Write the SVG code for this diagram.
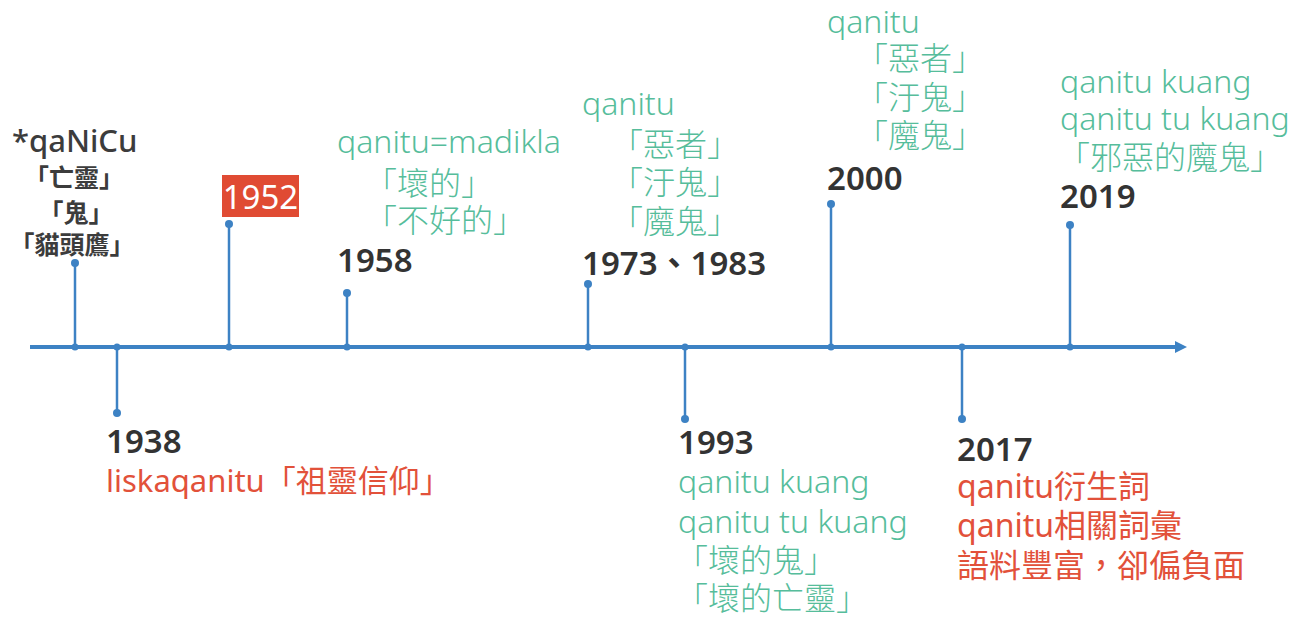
<svg xmlns="http://www.w3.org/2000/svg" width="1308" height="617" viewBox="0 0 1308 617">
<defs>
<style>
text{font-family:"Noto Sans","Noto Sans CJK TC",sans-serif;}
.yr{font-size:33px;font-weight:600;fill:#333333;}
.g{font-size:32px;font-weight:300;fill:#56bd9b;}
.r{font-size:31px;fill:#e2513a;}
.r2{font-size:32px;fill:#e2513a;}
.k{font-size:25px;font-weight:700;fill:#3c3c3c;text-anchor:middle;}
.stem{stroke:#3d82c4;stroke-width:2.5;fill:none;}
.dot{fill:#3d82c4;}
</style>
<marker id="arr" viewBox="0 0 12 12" refX="2" refY="6" markerWidth="12" markerHeight="12" markerUnits="userSpaceOnUse" orient="auto">
<path d="M0,0 L12,6 L0,12 Z" fill="#3d82c4"/>
</marker>
</defs>
<rect width="1308" height="617" fill="#ffffff"/>
<g id="connectors">
<line x1="30" y1="347" x2="1177" y2="347" stroke="#3d82c4" stroke-width="4" marker-end="url(#arr)"/>
<line class="stem" x1="75" y1="347" x2="75" y2="263"/>
<line class="stem" x1="117" y1="347" x2="117" y2="413"/>
<line class="stem" x1="229" y1="347" x2="229" y2="224"/>
<line class="stem" x1="347" y1="347" x2="347" y2="293"/>
<line class="stem" x1="588" y1="347" x2="588" y2="284"/>
<line class="stem" x1="685" y1="347" x2="685" y2="419"/>
<line class="stem" x1="831" y1="347" x2="831" y2="204"/>
<line class="stem" x1="962" y1="347" x2="962" y2="419"/>
<line class="stem" x1="1070" y1="347" x2="1070" y2="225"/>
<circle class="dot" cx="75" cy="347" r="3.5"/><circle class="dot" cx="75" cy="263" r="4"/>
<circle class="dot" cx="117" cy="347" r="3.5"/><circle class="dot" cx="117" cy="413" r="4"/>
<circle class="dot" cx="229" cy="347" r="3.5"/><circle class="dot" cx="229" cy="224" r="4"/>
<circle class="dot" cx="347" cy="347" r="3.5"/><circle class="dot" cx="347" cy="293" r="4"/>
<circle class="dot" cx="588" cy="347" r="3.5"/><circle class="dot" cx="588" cy="284" r="4"/>
<circle class="dot" cx="685" cy="347" r="3.5"/><circle class="dot" cx="685" cy="419" r="4"/>
<circle class="dot" cx="831" cy="347" r="3.5"/><circle class="dot" cx="831" cy="204" r="4"/>
<circle class="dot" cx="962" cy="347" r="3.5"/><circle class="dot" cx="962" cy="419" r="4"/>
<circle class="dot" cx="1070" cy="347" r="3.5"/><circle class="dot" cx="1070" cy="225" r="4"/>
</g>
<g id="n-qaNiCu">
<text x="12" y="152" style="font-size:31px;font-weight:500;fill:#3c3c3c;">*qaNiCu</text>
<text class="k" x="74" y="187">「亡靈」</text>
<text class="k" x="76" y="222">「鬼」</text>
<text class="k" x="72" y="254">「貓頭鷹」</text>
</g>
<g id="n1938">
<text class="yr" x="106" y="453">1938</text>
<text class="r" x="106" y="492">liskaqanitu「祖靈信仰」</text>
</g>
<g id="n1952">
<rect x="222" y="175" width="77" height="42" fill="#e04b33"/>
<text x="260.5" y="209" text-anchor="middle" style="font-size:33px;fill:#ffffff;">1952</text>
</g>
<g id="n1958">
<text class="g" x="337" y="153">qanitu=madikla</text>
<text class="g" x="365" y="195">「壞的」</text>
<text class="g" x="365" y="232">「不好的」</text>
<text class="yr" x="337" y="272">1958</text>
</g>
<g id="n1973">
<text class="g" x="582" y="115">qanitu</text>
<text class="g" x="611" y="156">「惡者」</text>
<text class="g" x="611" y="194">「汙鬼」</text>
<text class="g" x="611" y="233">「魔鬼」</text>
<text class="yr" x="582" y="275">1973、1983</text>
</g>
<g id="n1993">
<text class="yr" x="678" y="454">1993</text>
<text class="g" x="678" y="493">qanitu kuang</text>
<text class="g" x="678" y="533">qanitu tu kuang</text>
<text class="g" x="676" y="572">「壞的鬼」</text>
<text class="g" x="676" y="610">「壞的亡靈」</text>
</g>
<g id="n2000">
<text class="g" x="827" y="33">qanitu</text>
<text class="g" x="856" y="70">「惡者」</text>
<text class="g" x="856" y="109">「汙鬼」</text>
<text class="g" x="856" y="147">「魔鬼」</text>
<text class="yr" x="827" y="190">2000</text>
</g>
<g id="n2017">
<text class="yr" x="957" y="461">2017</text>
<text class="r2" x="957" y="498">qanitu衍生詞</text>
<text class="r2" x="957" y="537">qanitu相關詞彙</text>
<text class="r2" x="957" y="577">語料豐富，卻偏負面</text>
</g>
<g id="n2019">
<text class="g" x="1060" y="93">qanitu kuang</text>
<text class="g" x="1060" y="130">qanitu tu kuang</text>
<text class="g" x="1058" y="169">「邪惡的魔鬼」</text>
<text class="yr" x="1060" y="208">2019</text>
</g>
</svg>
